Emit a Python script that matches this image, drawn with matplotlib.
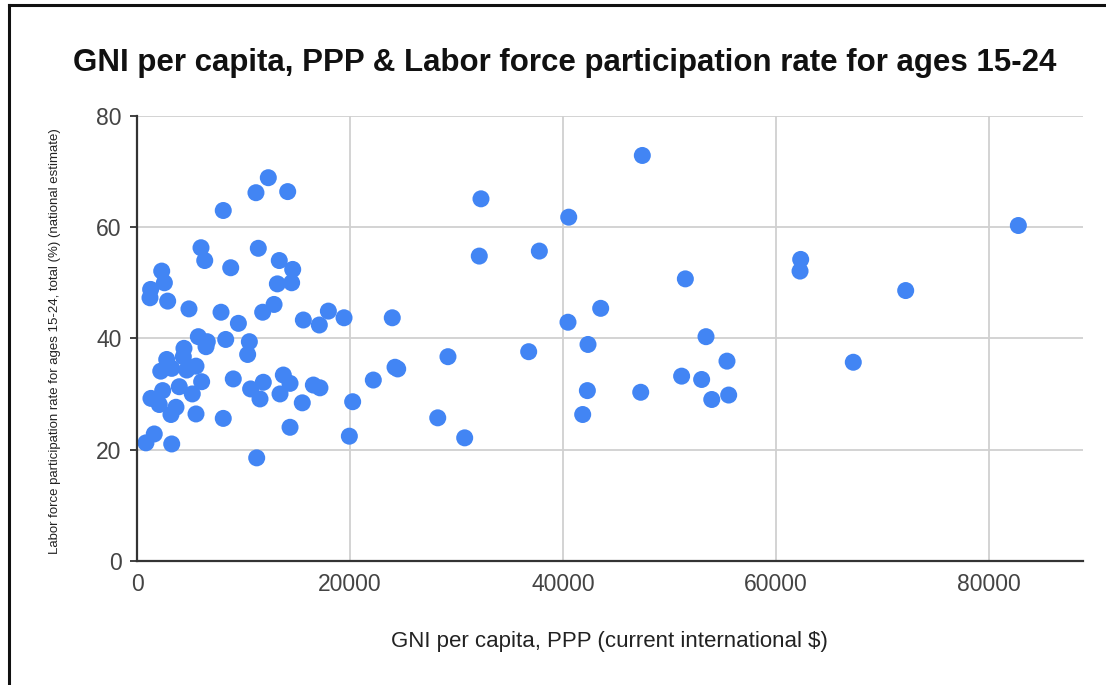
import matplotlib.pyplot as plt
import matplotlib as mpl
from matplotlib.lines import Line2D

mpl.rcParams.update({'font.family': ['Liberation Sans', 'DejaVu Sans']})

# GNI per capita, PPP (current international $)
gni = [12330, 11170, 14150, 8100, 6010, 6360, 11390, 8800, 13360, 14620,
       14520, 13180, 2320, 2570, 1280, 1220, 2880, 4880, 7890, 9520,
       11800, 12870, 15620, 17120, 17970, 19440, 5760, 6480, 6600, 8330,
       10550, 10390, 4410, 4350, 2790, 2230, 3260, 4670, 5540, 6070,
       3970, 5190, 9040, 10670, 11860, 11550, 13740, 14370, 13430, 16560,
       17180, 15520, 20250, 22190, 2410, 1310, 2090, 3660, 3190, 5540,
       8100, 14370, 1620, 840, 3260, 19940, 11240,
       47450, 32300, 40540, 32140, 37780, 51490, 23970, 40470, 43540, 53430,
       42350, 29200, 36780, 24230, 24480, 55400, 51140, 53020, 55560, 53970,
       42290, 47300, 41850, 28240, 30770,
       62320, 62260, 72180, 67260, 82760]

# Labor force participation rate, ages 15-24 (%)
lfpr = [68.9, 66.2, 66.4, 63.0, 56.3, 54.0, 56.2, 52.7, 54.0, 52.4,
        50.0, 49.8, 52.1, 50.0, 48.8, 47.3, 46.7, 45.3, 44.7, 42.7,
        44.7, 46.1, 43.3, 42.4, 44.9, 43.7, 40.3, 38.5, 39.4, 39.8,
        39.4, 37.1, 38.2, 36.7, 36.2, 34.1, 34.6, 34.3, 35.0, 32.2,
        31.3, 30.0, 32.7, 30.9, 32.1, 29.1, 33.4, 31.9, 30.0, 31.6,
        31.1, 28.4, 28.6, 32.5, 30.6, 29.2, 28.1, 27.6, 26.3, 26.4,
        25.6, 24.0, 22.8, 21.2, 21.0, 22.4, 18.5,
        72.9, 65.1, 61.8, 54.8, 55.7, 50.7, 43.7, 42.9, 45.4, 40.3,
        38.9, 36.7, 37.6, 34.8, 34.5, 35.9, 33.2, 32.6, 29.8, 29.0,
        30.6, 30.3, 26.3, 25.7, 22.1,
        54.2, 52.1, 48.6, 35.7, 60.3]

xticks = [0, 20000, 40000, 60000, 80000]
yticks = [0, 20, 40, 60, 80]

fig = plt.figure(figsize=(11.06, 6.85), dpi=100)
ax = fig.add_axes([137/1106, 1 - 560.7/685, (1083 - 137)/1106, (560.7 - 116)/685])

ax.scatter(gni, lfpr, s=150, color='#4285F4', edgecolors='none', zorder=3, clip_on=False)

ax.set_xlim(0, 88830)
ax.set_ylim(0, 80)
ax.set_xticks(xticks)
ax.set_yticks(yticks)
ax.grid(True, color='#d0d0d0', linewidth=1.3, zorder=0)
for s in ['top', 'right']:
    ax.spines[s].set_visible(False)
for s in ['left', 'bottom']:
    ax.spines[s].set_color('#333333')
    ax.spines[s].set_linewidth(1.6)
    ax.spines[s].set_zorder(4)
ax.tick_params(axis='x', length=0, pad=9, labelsize=16.5, labelcolor='#444444')
ax.tick_params(axis='y', length=5, width=1.3, color='#333333', pad=6, labelsize=16.5, labelcolor='#444444')

fig.text(0.511, 1 - 63/685, 'GNI per capita, PPP & Labor force participation rate for ages 15-24',
         ha='center', va='center', fontsize=22.5, fontweight='bold', color='#111111')
fig.text(609/1106, 1 - 641/685, 'GNI per capita, PPP (current international $)',
         ha='center', va='center', fontsize=16, color='#222222')
fig.text(55/1106, 1 - 341/685,
         'Labor force participation rate for ages 15-24, total (%) (national estimate)',
         ha='center', va='center', rotation=90, fontsize=9.5, color='#222222',
         family=['Liberation Sans Narrow', 'Liberation Sans'])

# frame lines of the screenshot
fig.add_artist(Line2D([9/1106, 9/1106], [0, 1 - 5/685], color='#111111', linewidth=2.2))
fig.add_artist(Line2D([9/1106, 1], [1 - 5/685, 1 - 5/685], color='#111111', linewidth=2.2))

fig.savefig('out.png', dpi=100)
